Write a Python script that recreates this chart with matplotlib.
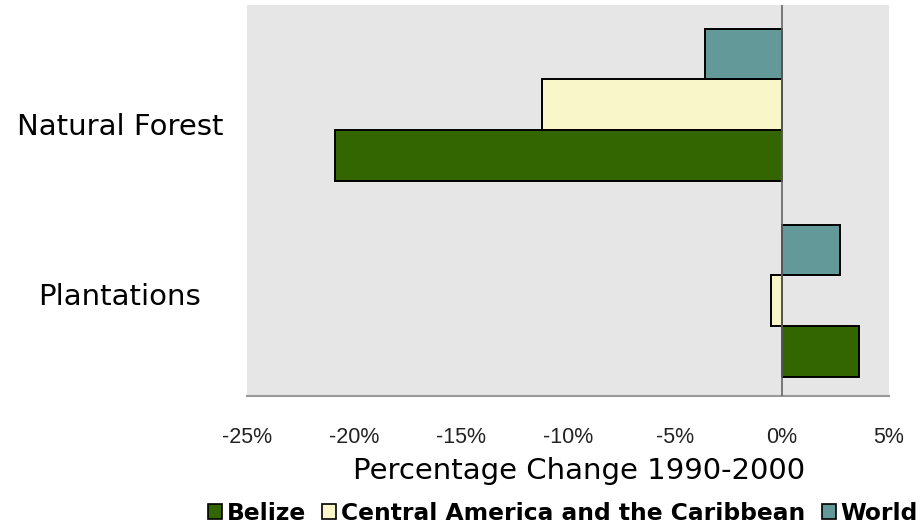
import numpy as np
import matplotlib
matplotlib.use('Agg')
import matplotlib.pyplot as plt
from matplotlib.patches import Patch
from matplotlib.transforms import blended_transform_factory

categories = ['Natural Forest', 'Plantations']
series = ['Belize', 'Central America and the Caribbean', 'World']
belize = [-20.9, 3.6]
central_america = [-11.2, -0.5]
world = [-3.6, 2.7]
ticks = [-25, -20, -15, -10, -5, 0, 5]
tick_labels = ['-25%', '-20%', '-15%', '-10%', '-5%', '0%', '5%']
colors = ['#336600', '#F9F7C9', '#639A99']

fig = plt.figure(figsize=(9.19, 5.29), dpi=100)
ax = fig.add_axes([247/919, 1-396/529, (889-247)/919, (396-5)/529])
ax.set_facecolor('#E6E6E6')

pos = np.array([1.0, 0.0])  # Natural Forest on top
h = 0.26
vals = [belize, central_america, world]
offs = [-h, 0, h]
for v, o, c, name in zip(vals, offs, colors, series):
    ax.barh(pos + o, v, height=h, color=c, edgecolor='black', linewidth=1.4,
            label=name, zorder=2)

ax.axvline(0, color='#666666', linewidth=1.2, zorder=3)
ax.set_xlim(-25, 5)
ax.set_ylim(-0.485, 1.51)

ax.set_xticks(ticks)
ax.set_xticklabels(tick_labels, fontfamily='Liberation Sans', fontsize=15.5, color='#222222')
ax.tick_params(axis='x', length=0, pad=22)
ax.set_yticks([])
for s in ['left', 'right', 'top']:
    ax.spines[s].set_visible(False)
ax.spines['bottom'].set_color('#999999')
ax.spines['bottom'].set_linewidth(1.5)

# category labels, centred left of the axes
tr = blended_transform_factory(ax.transAxes, ax.transData)
label_shift = [-0.11, 0.02]
for p, cat, sh in zip(pos, categories, label_shift):
    ax.text(-0.198, p + sh, cat, transform=tr, ha='center', va='center',
            fontsize=21, fontfamily='DejaVu Sans', color='black')

fig.text(579/919, 1-471/529, 'Percentage Change 1990-2000', ha='center', va='center',
         fontsize=21, fontfamily='DejaVu Sans', color='black')

handles = [Patch(facecolor=c, edgecolor='black', linewidth=1.2) for c in colors]
fig.legend(handles, series, loc='center', bbox_to_anchor=(563/919, 1-513/529), ncol=3,
           frameon=False, prop={'family': 'DejaVu Sans', 'weight': 'bold', 'size': 16.8},
           handlelength=0.6, handleheight=0.6, handletextpad=0.2, columnspacing=0.7,
           borderpad=0, borderaxespad=0)

fig.savefig('out.png', dpi=100)
